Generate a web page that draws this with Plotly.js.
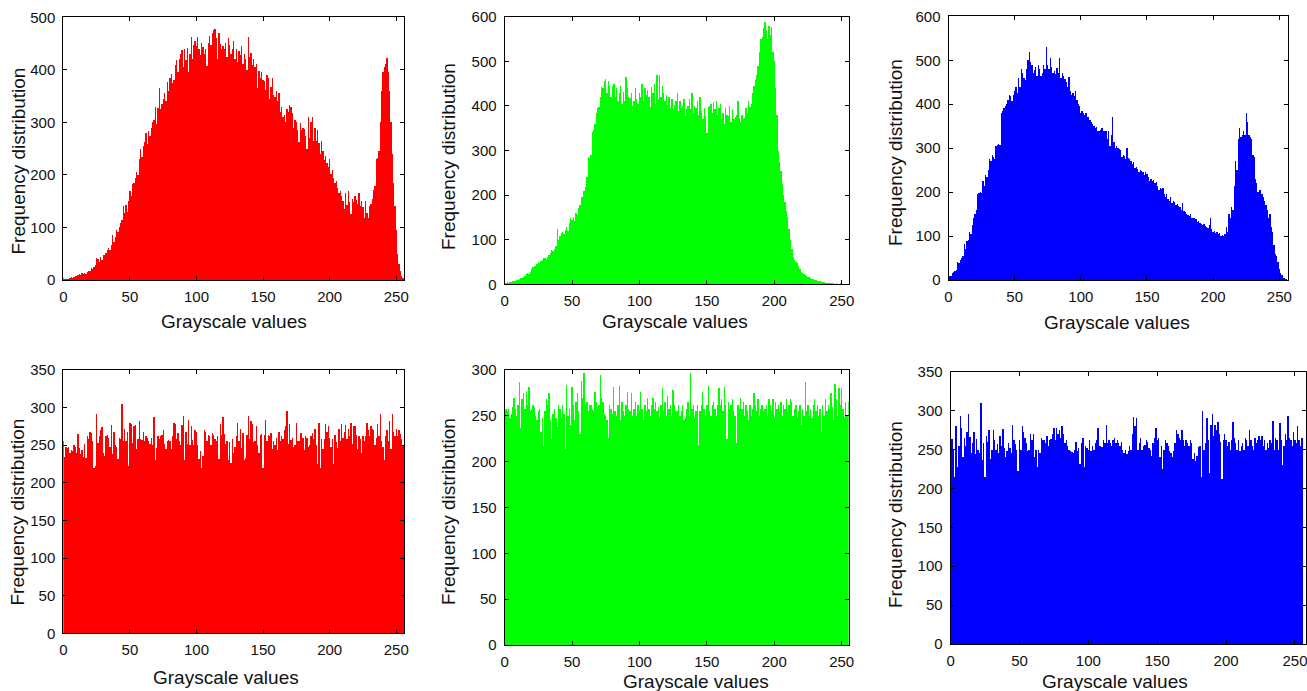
<!DOCTYPE html>
<html>
<head>
<meta charset="utf-8">
<script src="https://cdn.plot.ly/plotly-3.0.1.min.js"></script>
<style>
html,body{margin:0;padding:0;overflow:hidden;background:#fff;}
#chart{width:1307px;height:691px;}
</style>
</head>
<body>
<div id="chart"></div>
<script>
// gray level bins 0..255
const grayLevels = Array.from({length: 256}, (_, i) => i);

// Top row: histograms of the original image channels
const redOriginal = [
  3,2,2,1,2,3,5,4,6,8,7,9,12,10,13,12,
  14,11,16,18,17,22,20,25,28,42,40,35,44,38,48,47,
  52,58,60,57,66,85,72,82,96,92,100,108,115,140,128,142,
  130,150,170,160,182,185,195,205,200,230,250,235,255,262,280,258,
  283,275,290,300,305,330,296,328,365,325,335,345,355,340,376,360,
  385,392,375,380,410,418,395,420,430,438,405,440,418,442,395,430,
  462,420,448,455,445,462,440,428,452,444,430,440,408,452,465,448,
  470,476,478,460,420,470,450,440,445,440,452,425,460,448,430,440,
  455,420,440,415,435,428,445,412,430,420,400,462,425,432,410,420,
  405,412,365,398,385,395,380,378,362,390,385,345,368,385,352,348,
  360,340,355,320,330,310,315,300,325,320,334,330,318,290,305,300,
  285,262,298,285,290,288,275,250,310,270,300,310,265,290,265,285,
  260,240,265,245,228,236,222,215,230,202,210,195,185,188,175,165,
  170,160,150,135,165,142,170,148,125,155,148,160,152,145,165,140,
  150,138,118,150,128,118,140,145,155,172,178,230,232,245,300,360,
  395,405,412,422,395,360,300,240,185,140,95,50,30,18,8,4
];
const greenOriginal = [
  25,3,5,4,6,5,7,8,8,10,9,12,14,13,16,18,
  22,25,24,28,35,38,42,40,45,50,48,52,55,58,60,57,
  62,65,70,78,75,80,85,125,100,108,115,118,112,122,128,120,
  138,148,145,150,142,160,155,170,178,195,196,210,219,240,286,284,
  290,342,346,360,383,395,398,420,443,440,455,460,430,455,445,420,
  445,450,420,440,412,428,445,405,432,410,465,440,420,418,430,400,
  412,440,415,405,430,420,448,410,440,425,435,420,398,442,428,450,
  405,470,415,470,420,445,430,410,425,402,420,395,415,390,402,412,
  430,388,410,395,400,415,378,392,400,415,392,430,385,400,395,410,
  380,420,388,370,395,378,340,398,400,405,385,408,392,410,380,395,
  405,370,385,360,395,380,378,400,365,390,370,375,380,410,372,365,
  380,370,372,395,385,410,398,405,430,445,458,470,490,520,550,555,
  575,588,570,550,580,560,578,520,500,440,380,300,275,255,225,200,
  185,165,150,125,100,80,62,55,50,47,40,35,28,25,22,20,
  18,17,16,14,12,11,10,9,8,7,7,6,5,5,4,4,
  3,3,2,2,2,1,2,1,1,2,1,1,0,1,0,1
];
const blueOriginal = [
  30,8,10,15,18,20,22,42,38,45,50,55,82,70,88,92,
  110,105,125,140,150,160,195,198,200,198,226,215,240,235,250,275,
  270,285,280,275,305,308,310,308,380,385,392,395,400,410,420,418,
  408,422,430,440,425,460,440,480,470,460,455,480,500,518,495,490,
  470,478,485,465,490,480,465,470,490,480,530,490,480,505,485,470,
  475,468,482,470,505,460,470,465,458,450,440,462,430,420,425,418,
  430,410,400,395,380,385,380,375,380,372,370,365,360,355,350,345,
  348,340,338,342,345,340,338,340,320,340,305,330,370,315,300,305,
  300,298,295,280,285,282,275,300,278,275,270,265,268,255,258,252,
  245,250,248,245,240,245,242,235,225,230,225,228,220,222,215,205,
  210,208,210,195,190,195,185,180,188,175,180,178,170,172,168,165,
  160,175,158,155,150,148,145,150,140,142,140,138,132,135,130,128,
  125,128,122,120,118,125,140,115,110,112,108,110,105,108,100,102,
  100,105,120,110,150,140,165,160,215,270,250,320,345,325,330,340,
  330,380,360,330,325,320,285,280,230,220,200,205,205,195,190,180,
  170,160,140,150,120,110,80,60,55,40,25,15,12,5,5,3
];

// Bottom row: histograms of the encrypted image channels
const redEncrypted = [
  255,235,248,246,248,240,244,242,250,248,240,265,246,238,243,235,
  252,233,262,258,268,266,255,220,222,292,253,262,270,274,240,236,
  262,263,260,248,277,238,268,250,248,232,260,258,305,255,272,256,
  268,222,280,278,253,276,277,245,258,282,258,257,268,256,262,260,
  256,252,260,250,287,230,246,262,258,262,264,270,252,245,256,257,
  256,245,262,280,278,258,266,256,250,277,289,230,268,252,283,250,
  276,257,250,270,268,250,232,242,220,236,270,268,256,264,262,250,
  266,264,258,256,262,232,278,264,288,265,252,256,230,254,226,258,
  240,248,262,280,255,272,246,266,230,233,264,289,258,282,278,254,
  256,275,250,240,264,265,220,264,283,256,264,262,266,245,255,250,
  260,243,268,256,262,258,270,276,295,252,278,257,260,248,250,280,
  255,256,266,266,260,244,262,259,248,250,262,266,258,272,250,225,
  280,220,258,245,258,278,267,276,260,248,258,225,264,254,246,272,
  256,278,260,268,277,258,272,262,279,252,275,276,264,245,262,258,
  240,262,255,262,280,270,262,276,271,270,250,260,278,262,292,255,
  248,230,262,270,256,282,245,291,268,262,272,262,270,265,258,250
];
const greenEncrypted = [
  250,258,255,258,248,252,260,270,258,250,262,287,237,268,275,258,
  277,262,282,255,258,262,260,250,245,255,258,232,248,217,255,268,
  262,275,245,225,252,258,248,238,262,258,248,262,252,214,284,250,
  258,240,282,262,245,265,275,255,230,288,270,297,262,265,255,262,
  262,258,255,276,265,260,262,295,270,265,252,250,245,226,262,258,
  252,282,255,250,262,283,245,265,255,250,262,276,258,255,275,250,
  258,265,250,262,255,276,258,245,262,255,270,258,250,262,270,258,
  265,255,260,248,262,280,255,265,250,272,258,262,250,278,262,255,
  255,262,250,255,262,245,248,258,265,250,297,258,262,248,255,262,
  218,255,262,276,258,250,262,283,255,250,262,265,258,250,262,280,
  262,268,255,282,262,225,265,258,262,268,255,250,220,262,258,270,
  258,265,250,262,255,245,262,250,258,275,262,255,268,250,258,262,
  255,258,262,250,268,262,255,268,248,265,258,262,255,265,250,262,
  258,268,255,262,268,265,250,258,262,248,255,262,240,258,250,287,
  255,262,250,258,248,262,268,255,262,250,258,232,262,250,268,255,
  262,258,275,260,245,285,268,250,280,262,280,258,248,265,250,265
];
const blueEncrypted = [
  230,263,250,215,280,228,255,293,277,240,265,255,272,296,266,245,
  258,272,244,263,250,245,310,237,258,215,268,260,275,238,250,275,
  262,250,257,245,268,255,276,252,240,248,258,252,245,281,262,257,
  250,222,262,250,280,272,265,258,248,250,270,262,270,240,250,228,
  250,245,265,262,262,258,268,255,262,264,270,278,262,278,270,275,
  265,280,270,258,262,255,250,248,247,245,250,260,248,252,232,258,
  265,228,255,252,250,262,248,255,250,258,262,277,255,255,253,262,
  258,281,258,262,258,255,262,265,258,262,258,255,260,250,245,250,
  244,248,255,250,270,292,280,290,250,258,265,250,255,256,262,260,
  252,250,242,258,265,278,262,265,240,255,225,250,262,258,255,248,
  245,240,248,258,275,270,265,262,275,262,255,262,258,255,262,258,
  238,245,235,242,253,255,215,300,250,258,290,262,220,282,295,268,
  282,275,285,270,260,212,262,270,262,255,260,250,262,285,265,258,
  250,262,248,255,258,250,265,262,255,275,262,255,250,265,258,262,
  268,262,268,255,262,250,258,252,262,258,286,250,265,262,250,284,
  262,230,255,270,262,293,265,262,255,272,262,258,280,262,255,265
];

[redOriginal, greenOriginal, blueOriginal, redEncrypted, greenEncrypted, blueEncrypted].forEach((a, k) => {
  if (a.length !== 256) throw new Error('series ' + k + ' has ' + a.length + ' values');
});

const xTickValues = [0, 50, 100, 150, 200, 250];
const yTicksTop1 = [0, 100, 200, 300, 400, 500];
const yTicksTop23 = [0, 100, 200, 300, 400, 500, 600];
const yTicksBottom13 = [0, 50, 100, 150, 200, 250, 300, 350];
const yTicksBottom2 = [0, 50, 100, 150, 200, 250, 300];
const xTitle = 'Grayscale values';
const yTitle = 'Frequency distribution';

const W = 1307, H = 691;
const FONT = 'Liberation Sans, Arial, Helvetica, sans-serif';

const panels = [
  {data: redOriginal,    color: '#ff0000', px: [63.3, 404],    py: [17.3, 280],  xr: [0, 255.8], yr: [0, 500], yt: yTicksTop1,    xt: [234, 321],  yti: [17.5, 161]},
  {data: greenOriginal,  color: '#00ff00', px: [504.6, 849.3], py: [16.7, 284.3], xr: [0, 255.6], yr: [0, 600], yt: yTicksTop23,   xt: [675, 321],  yti: [449, 157]},
  {data: blueOriginal,   color: '#0000ff', px: [948.5, 1288.3], py: [16.3, 280], xr: [0, 256.8], yr: [0, 600], yt: yTicksTop23,   xt: [1117, 322], yti: [895, 153]},
  {data: redEncrypted,   color: '#ff0000', px: [63.3, 404],    py: [370, 633.3], xr: [0, 255.8], yr: [0, 350], yt: yTicksBottom13, xt: [226, 677], yti: [17.5, 512]},
  {data: greenEncrypted, color: '#00ff00', px: [504.6, 848.7], py: [370, 645],   xr: [0, 255.2], yr: [0, 300], yt: yTicksBottom2,  xt: [696, 681], yti: [449, 512]},
  {data: blueEncrypted,  color: '#0000ff', px: [950.6, 1306],  py: [371.7, 644], xr: [0, 258],   yr: [0, 350], yt: yTicksBottom13, xt: [1115, 681], yti: [895, 515]}
];

const traces = [];
const layout = {
  width: W, height: H,
  margin: {l: 0, r: 0, t: 0, b: 0, pad: 0},
  paper_bgcolor: '#ffffff',
  plot_bgcolor: '#ffffff',
  showlegend: false,
  bargap: 0,
  font: {family: FONT, color: '#111111', size: 15},
  annotations: []
};

panels.forEach((p, i) => {
  const n = i === 0 ? '' : String(i + 1);
  traces.push({
    type: 'bar',
    x: grayLevels,
    y: p.data,
    width: 1,
    xaxis: 'x' + n,
    yaxis: 'y' + n,
    marker: {color: p.color, line: {width: 0}},
    hoverinfo: 'x+y'
  });
  const common = {
    ticks: 'inside', ticklen: 4, tickwidth: 1, tickcolor: '#000000',
    showline: true, linecolor: '#000000', linewidth: 1, mirror: 'ticks',
    showgrid: false, zeroline: false, fixedrange: true,
    ticklabeloverflow: 'allow',
    tickfont: {family: FONT, size: 15, color: '#111111'}
  };
  layout['xaxis' + n] = Object.assign({}, common, {
    domain: [p.px[0] / W, p.px[1] / W],
    range: p.xr,
    anchor: 'y' + n,
    tickmode: 'array', tickvals: xTickValues, ticktext: xTickValues.map(String),
    ticklabelstandoff: 3
  });
  layout['yaxis' + n] = Object.assign({}, common, {
    domain: [1 - p.py[1] / H, 1 - p.py[0] / H],
    range: p.yr,
    anchor: 'x' + n,
    tickmode: 'array', tickvals: p.yt, ticktext: p.yt.map(String),
    ticklabelstandoff: 4
  });
  layout.annotations.push({
    text: xTitle, xref: 'paper', yref: 'paper',
    x: p.xt[0] / W, y: 1 - p.xt[1] / H, xanchor: 'center', yanchor: 'middle',
    showarrow: false, font: {family: FONT, size: 19, color: '#111111'}
  });
  layout.annotations.push({
    text: yTitle, xref: 'paper', yref: 'paper', textangle: -90,
    x: p.yti[0] / W, y: 1 - p.yti[1] / H, xanchor: 'center', yanchor: 'middle',
    showarrow: false, font: {family: FONT, size: 19, color: '#111111'}
  });
});

Plotly.newPlot('chart', traces, layout, {displayModeBar: false, staticPlot: true});
</script>
</body>
</html>
